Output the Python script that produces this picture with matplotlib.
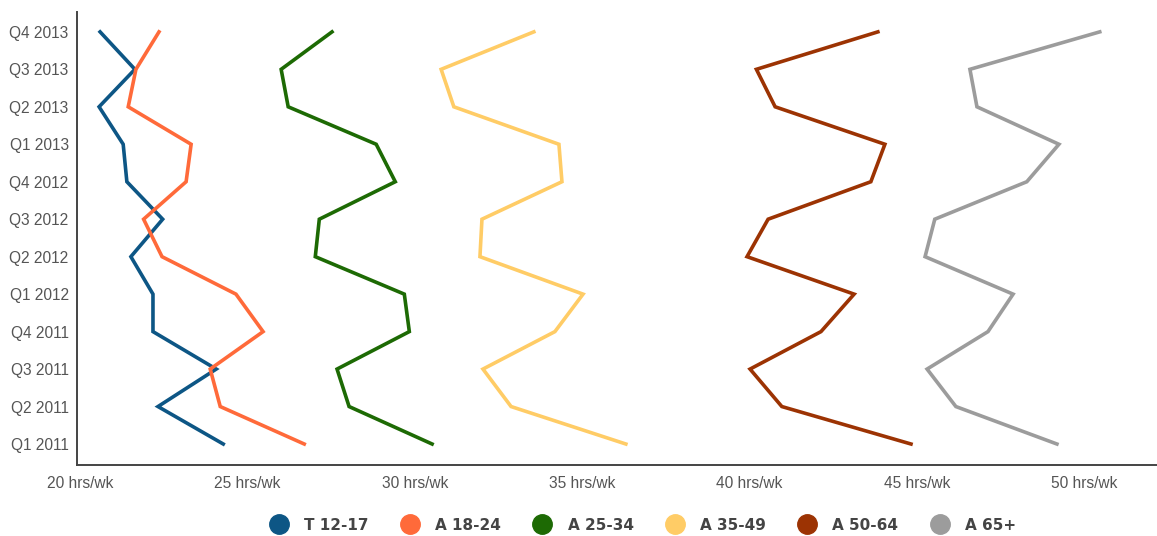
import matplotlib
matplotlib.use("Agg")
import matplotlib.pyplot as plt
from matplotlib.lines import Line2D

quarters = ["Q1 2011", "Q2 2011", "Q3 2011", "Q4 2011",
            "Q1 2012", "Q2 2012", "Q3 2012", "Q4 2012",
            "Q1 2013", "Q2 2013", "Q3 2013", "Q4 2013"]

t_12_17 = [24.28, 22.33, 24.07, 22.18, 22.18, 21.52, 22.47, 21.40, 21.29, 20.57, 21.64, 20.60]
a_18_24 = [26.70, 24.19, 23.89, 25.47, 24.66, 22.45, 21.90, 23.17, 23.32, 21.44, 21.67, 22.36]
a_25_34 = [30.52, 28.04, 27.68, 29.84, 29.69, 27.03, 27.15, 29.42, 28.85, 26.22, 26.01, 27.53]
a_35_49 = [36.31, 32.88, 32.04, 34.19, 35.03, 31.95, 32.01, 34.40, 34.31, 31.17, 30.79, 33.56]
a_50_64 = [44.83, 40.97, 40.02, 42.14, 43.13, 39.93, 40.56, 43.63, 44.05, 40.77, 40.21, 43.84]
a_65 = [49.19, 46.17, 45.31, 47.13, 47.88, 45.25, 45.54, 48.29, 49.25, 46.80, 46.59, 50.47]

series = [
    ("T 12-17", t_12_17, "#0d5685"),
    ("A 18-24", a_18_24, "#ff6a3a"),
    ("A 25-34", a_25_34, "#1d6a04"),
    ("A 35-49", a_35_49, "#ffcc66"),
    ("A 50-64", a_50_64, "#9c3303"),
    ("A 65+", a_65, "#9c9c9c"),
]

x_ticks = [20, 25, 30, 35, 40, 45, 50]

plt.rcParams["font.family"] = ["Liberation Sans", "DejaVu Sans"]

fig = plt.figure(figsize=(11.57, 5.36), dpi=100)
ax = fig.add_axes([77 / 1157, 1 - 465 / 536, 1 - 77 / 1157, (465 - 12) / 536])

y = list(range(len(quarters)))
for nome, valores, cor in series:
    ax.plot(valores, y, color=cor, linewidth=2.6, solid_joinstyle="miter")

ax.set_xlim(19.91, 52.18)
ax.set_ylim(-0.56, 11.53)
ax.set_yticks(y)
ax.set_yticklabels(quarters)
ax.set_xticks(x_ticks)
ax.set_xticklabels([f"{v} hrs/wk" for v in x_ticks])
ax.tick_params(axis="both", length=0, labelsize=11.2, labelcolor="#555555")
ax.tick_params(axis="y", pad=6)
ax.tick_params(axis="x", pad=8)

for lado in ["top", "right"]:
    ax.spines[lado].set_visible(False)
for lado in ["left", "bottom"]:
    ax.spines[lado].set_color("#444444")
    ax.spines[lado].set_linewidth(1.4)

handles = [Line2D([], [], linestyle="none", marker="o", markersize=14,
                  markerfacecolor=cor, markeredgecolor=cor) for _, _, cor in series]
labels = [nome for nome, _, _ in series]
leg = fig.legend(handles, labels, loc="center", bbox_to_anchor=(0.553, 1 - 525 / 536),
                 ncol=6, frameon=False, handletextpad=0.65, columnspacing=1.7,
                 prop={"family": "DejaVu Sans", "weight": "bold", "size": 11})
for txt in leg.get_texts():
    txt.set_color("#444444")

fig.savefig("out.png", dpi=100)
